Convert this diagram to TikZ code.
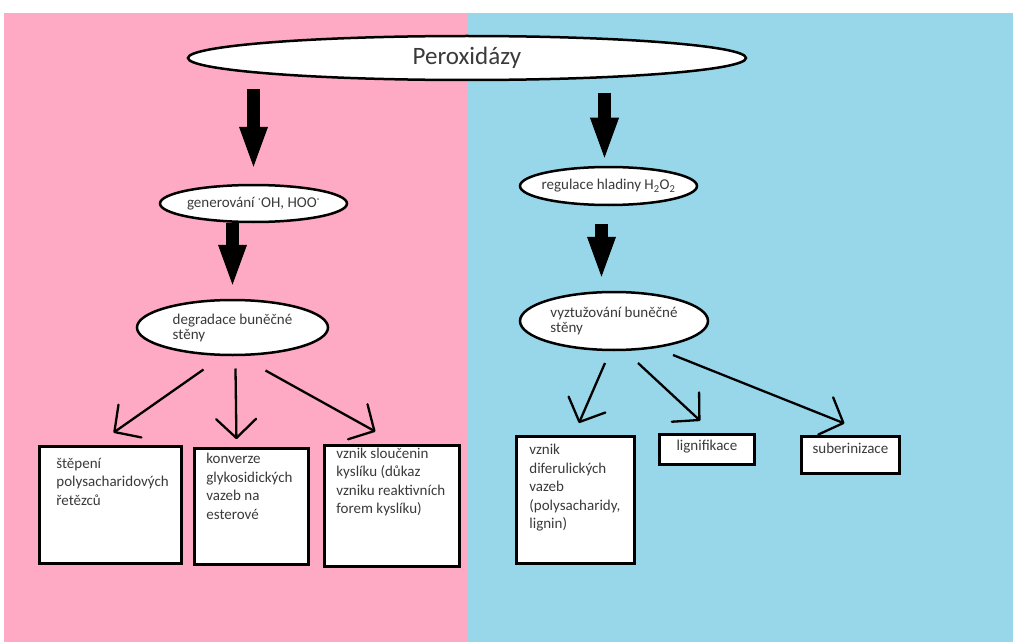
\documentclass[tikz,border=0pt]{standalone}
\usepackage{fontspec}
\setmainfont{Carlito}
\usepackage{xcolor}
\usepackage{tikz}
\usetikzlibrary{shapes.geometric,arrows.meta,calc}
\definecolor{pinkbg}{HTML}{FFAAC5}
\definecolor{bluebg}{HTML}{97D7E9}
\definecolor{txtgray}{HTML}{3A3A3A}
\pgfdeclarearrow{
  name = Vee,
  parameters = {\the\pgfarrowlength,\the\pgfarrowwidth},
  setup code = {
    \pgfarrowssettipend{0pt}
    \pgfarrowssetlineend{-0.5\pgflinewidth}
    \pgfarrowshullpoint{0pt}{0pt}
    \pgfarrowsupperhullpoint{-\pgfarrowlength}{.5\pgfarrowwidth}
    \pgfarrowssavethe\pgfarrowlength
    \pgfarrowssavethe\pgfarrowwidth
  },
  drawing code = {
    \pgfsetdash{}{0pt}
    \pgfsetroundjoin
    \pgfsetroundcap
    \pgfpathmoveto{\pgfqpoint{-\pgfarrowlength}{.5\pgfarrowwidth}}
    \pgfpathlineto{\pgfpointorigin}
    \pgfpathlineto{\pgfqpoint{-\pgfarrowlength}{-.5\pgfarrowwidth}}
    \pgfusepathqstroke
  },
  defaults = {length=16pt, width=34pt}
}

\begin{document}
\begin{tikzpicture}[x=1pt,y=-1pt,
  ell/.style={ellipse, draw=black, line width=2.5pt, fill=white, inner xsep=-20pt, inner ysep=0pt, text=txtgray, align=left, font=\fontsize{15}{15}\selectfont},
  txtbox/.style={draw=black, line width=2.8pt, fill=white, anchor=north west, inner sep=0pt, text=txtgray, font=\fontsize{15}{18.5}\selectfont},
  bigarrow/.style={line width=13pt, -{Triangle[width=25pt,length=44pt]}},
  thinarrow/.style={line width=2.3pt, -{Vee[length=19pt,width=40pt]}}]
\useasboundingbox (0,0) rectangle (1013,642);
\fill[white] (0,0) rectangle (1013,642);
\fill[pinkbg] (4,13) rectangle (467,642);
\fill[bluebg] (467,13) rectangle (1013,642);
\node[ell, minimum width=558pt, minimum height=44pt, font=\fontsize{25}{25}\selectfont] (pero) at (467,58) {Peroxidázy};
\node[ell, minimum width=187pt, minimum height=37pt] (gen) at (253.5,203.5) {generování \textsuperscript{·}OH, HOO\textsuperscript{·}};
\node[ell, minimum width=177pt, minimum height=38pt] (reg) at (608.5,186) {regulace hladiny H\textsubscript{2}O\textsubscript{2}};
\node[ell, minimum width=191pt, minimum height=55pt] (deg) at (232.5,327.5) {degradace buněčné\\stěny};
\node[ell, minimum width=188pt, minimum height=58pt] (vyz) at (614,321) {vyztužování buněčné\\stěny};
\node[txtbox, inner xsep=17pt, inner ysep=11.5pt] (b1) at (38,445) {\parbox[t][94pt][t]{108pt}{štěpení\\polysacharidových\\řetězců}};
\node[txtbox, inner xsep=12pt, inner ysep=4.7pt] (b2) at (193,447) {\parbox[t][106.6pt][t]{90pt}{konverze\\glykosidických\\vazeb na\\esterové}};
\node[txtbox, inner xsep=12pt, inner ysep=2.5pt] (b3) at (323,444) {\parbox[t][116pt][t]{111pt}{vznik sloučenin\\kyslíku (důkaz\\vzniku reaktivních\\forem kyslíku)}};
\node[txtbox, inner xsep=13pt, inner ysep=7.7pt] (b4) at (515,435) {\parbox[t][111.6pt][t]{92pt}{vznik\\diferulických\\vazeb\\(polysacharidy,\\lignin)}};
\node[txtbox, inner ysep=6pt] (b5) at (658,433) {\parbox[t][18pt][t]{95pt}{\centering lignifikace}};
\node[txtbox, inner ysep=6.2pt] (b6) at (800,435) {\parbox[t][24.6pt][t]{98pt}{\centering suberinizace}};
\draw[bigarrow, shorten <=8pt, shorten >=13pt] (gen |- pero.south) -- (gen.north);
\draw[bigarrow, shorten <=12pt, shorten >=4pt] ($(reg.north |- pero.south)+(-4,0)$) -- ($(reg.north)+(-4,0)$);
\draw[bigarrow, shorten >=10pt] (deg |- gen.south) -- (deg.north);
\draw[bigarrow, shorten <=18pt, shorten >=10pt] ($(reg.south)+(-7,0)$) -- ($(reg.south |- vyz.north)+(-7,0)$);
\draw[thinarrow] ($(deg)+(-29,42)$) -- ($(b1.north)+(4,-13)$);
\draw[thinarrow] ($(deg)+(3,41)$) -- ($(b2.north)+(-15,-9)$);
\draw[thinarrow] ($(deg)+(33,43)$) -- ($(b3.north)+(-17.5,-13)$);
\draw[thinarrow] ($(vyz)+(-9,42)$) -- ($(b4.north)+(4,-13)$);
\draw[thinarrow] ($(vyz)+(24,42)$) -- ($(b5.north)+(-7.5,-13)$);
\draw[thinarrow] ($(vyz)+(59,34)$) -- ($(b6.north)+(-7,-12)$);
\end{tikzpicture}
\end{document}
